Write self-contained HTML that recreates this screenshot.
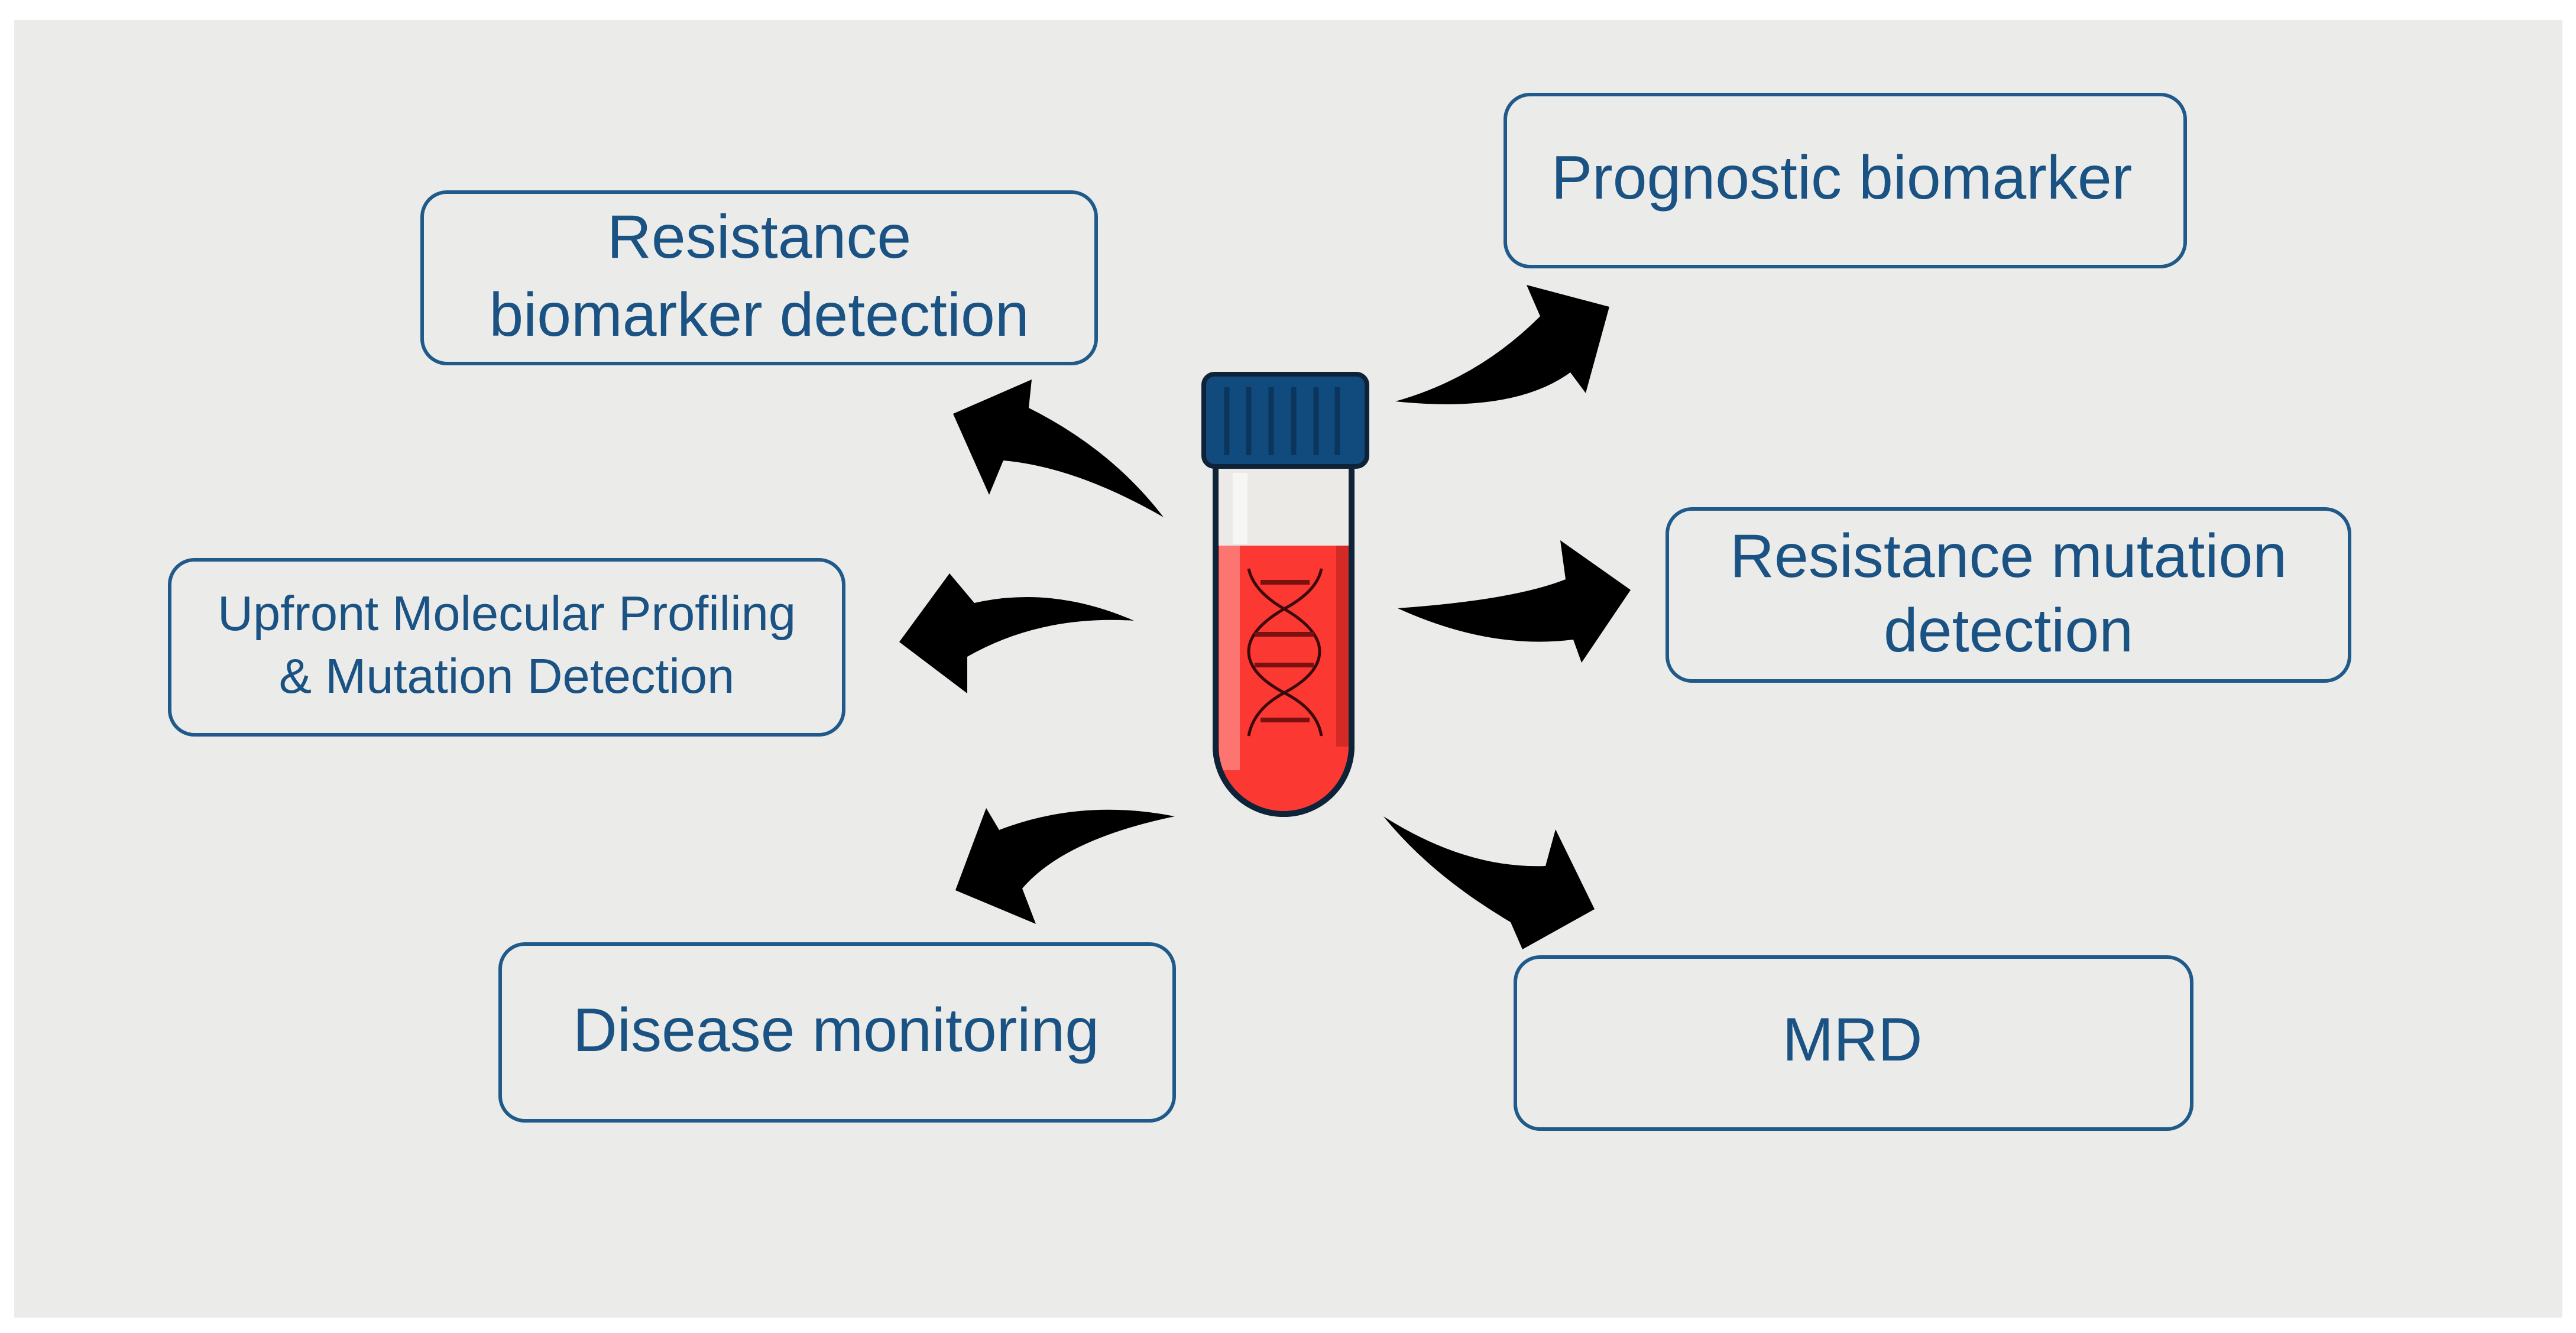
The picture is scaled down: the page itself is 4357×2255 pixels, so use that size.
<!DOCTYPE html>
<html><head><meta charset="utf-8"><style>
html,body{margin:0;padding:0;background:#fff;}
svg{display:block;}
text{font-family:"Liberation Sans",sans-serif;fill:#1a5283;}
</style></head><body>
<svg width="4357" height="2255" viewBox="0 0 4357 2255" xmlns="http://www.w3.org/2000/svg">
<rect x="24" y="34" width="4310" height="2195" fill="#ebebe9"/>
<g fill="none" stroke="#1f5a8a" stroke-width="6">
<rect x="714" y="325" width="1140" height="290" rx="42"/>
<rect x="287" y="947" width="1140" height="296" rx="42"/>
<rect x="2546" y="160" width="1150" height="291" rx="42"/>
<rect x="2820" y="861" width="1154" height="291" rx="42"/>
<rect x="846" y="1597" width="1140" height="299" rx="42"/>
<rect x="2563" y="1619" width="1144" height="291" rx="42"/>
</g>
<text x="1284" y="436" font-size="104" text-anchor="middle">Resistance</text>
<text x="1284" y="568" font-size="104" text-anchor="middle">biomarker detection</text>
<text x="857" y="1066" font-size="83" text-anchor="middle">Upfront Molecular Profiling</text>
<text x="857" y="1172" font-size="83" text-anchor="middle">&amp; Mutation Detection</text>
<text x="3115" y="336" font-size="104" text-anchor="middle">Prognostic biomarker</text>
<text x="3397" y="976" font-size="104" text-anchor="middle">Resistance mutation</text>
<text x="3397" y="1102" font-size="104" text-anchor="middle">detection</text>
<text x="1414" y="1778" font-size="104" text-anchor="middle">Disease monitoring</text>
<text x="3133" y="1794" font-size="104" text-anchor="middle">MRD</text>
<g fill="#000">
<path d="M2360 679 Q2500 640 2605 535 L2582 482 L2722 519 L2682 665 L2656 630 Q2560 700 2360 679 Z"/>
<path d="M2364 1029 Q2560 1015 2648 980 L2639 914 L2758 998 L2675 1121 L2661 1082 Q2520 1100 2364 1029 Z"/>
<path d="M1968 875 Q1880 760 1740 690 L1745 642 L1612 700 L1673 837 L1697 779 Q1820 790 1968 875 Z"/>
<path d="M1918 1050 Q1780 990 1648 1020 L1606 970 L1521 1086 L1636 1173 L1636 1111 Q1760 1040 1918 1050 Z"/>
<path d="M1987 1381 Q1830 1350 1690 1404 L1668 1367 L1616 1506 L1752 1563 L1729 1503 Q1800 1420 1987 1381 Z"/>
<path d="M2340 1381 Q2480 1470 2614 1465 L2631 1403 L2697 1538 L2575 1606 L2555 1560 Q2420 1480 2340 1381 Z"/>
</g>
<path d="M2056 788 L2056 1262 A115 115 0 0 0 2286 1262 L2286 788 Z" fill="#eceae6" stroke="#0e2238" stroke-width="10"/>
<path d="M2061 923 L2281 923 L2281 1262 A110 110 0 0 1 2061 1262 Z" fill="#fb3832"/>
<rect x="2062" y="923" width="35" height="380" fill="#fd7570"/>
<rect x="2085" y="800" width="25" height="120" fill="#f6f6f4"/>
<rect x="2260" y="923" width="21" height="340" fill="#d42a26"/>
<path d="M2056 788 L2056 1262 A115 115 0 0 0 2286 1262 L2286 788" fill="none" stroke="#0e2238" stroke-width="10"/>
<rect x="2036" y="633" width="276" height="156" rx="18" fill="#114a7c" stroke="#0e2238" stroke-width="8"/>
<g stroke="#0b355c" stroke-width="9">
<line x1="2075" y1="655" x2="2075" y2="770"/><line x1="2112" y1="655" x2="2112" y2="770"/>
<line x1="2150" y1="655" x2="2150" y2="770"/><line x1="2188" y1="655" x2="2188" y2="770"/>
<line x1="2226" y1="655" x2="2226" y2="770"/><line x1="2262" y1="655" x2="2262" y2="770"/>
</g>
<g fill="none" stroke="#3a0a0a" stroke-width="5">
<path d="M2112 962 Q2120 1000 2172 1030 Q2232 1065 2232 1102 Q2232 1140 2172 1172 Q2120 1200 2112 1245"/>
<path d="M2235 962 Q2228 1000 2172 1030 Q2112 1065 2112 1102 Q2112 1140 2172 1172 Q2228 1200 2235 1245"/>
</g>
<g stroke="#7a1010" stroke-width="8">
<line x1="2132" y1="985" x2="2215" y2="985"/><line x1="2122" y1="1073" x2="2222" y2="1073"/>
<line x1="2122" y1="1125" x2="2222" y2="1125"/><line x1="2132" y1="1218" x2="2215" y2="1218"/>
</g>
</svg>
</body></html>
